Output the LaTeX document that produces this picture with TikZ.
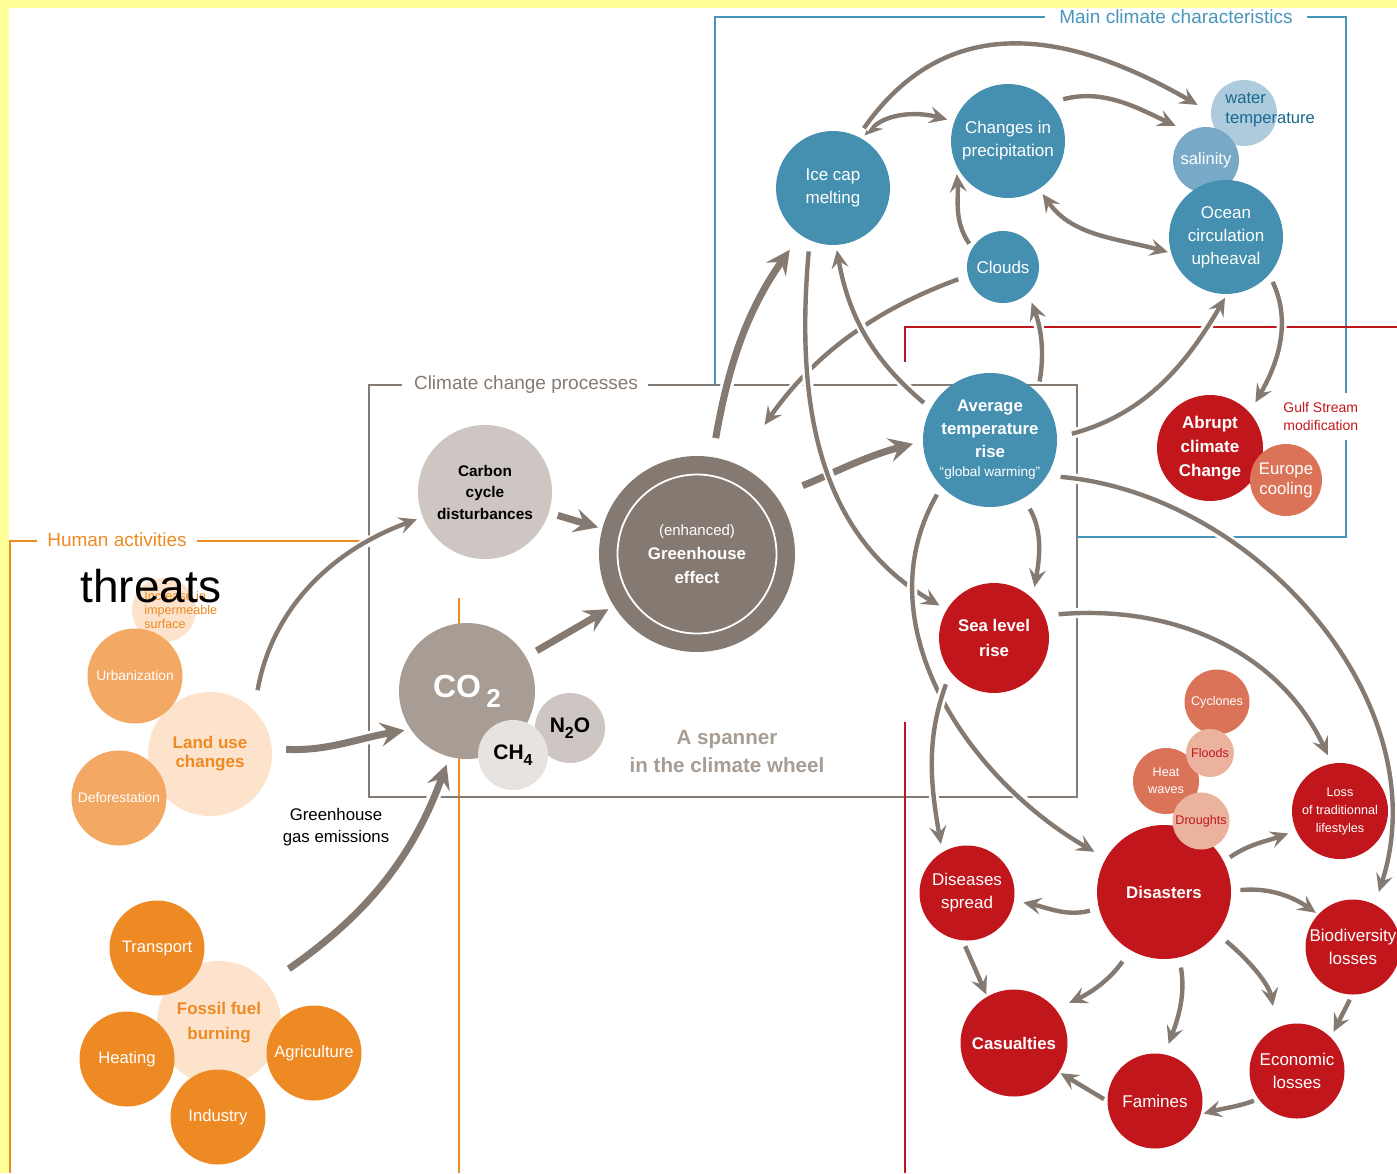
\documentclass[tikz,border=0pt]{standalone}
\usepackage{fontspec}
\setmainfont{Liberation Sans}
\usetikzlibrary{arrows.meta}

\definecolor{cyellow}{HTML}{FFFF99}
\definecolor{cblue}{HTML}{4590B0}
\definecolor{cblueL}{HTML}{78AAC7}
\definecolor{cblueLL}{HTML}{AECBDD}
\definecolor{cbluetext}{HTML}{17698E}
\definecolor{cframe}{HTML}{4894BA}
\definecolor{cgrey}{HTML}{857A71}
\definecolor{cgreyL}{HTML}{A79D95}
\definecolor{cgreyLL}{HTML}{CDC6C2}
\definecolor{cgreyLLL}{HTML}{E6E3E1}
\definecolor{cred}{HTML}{C1161C}
\definecolor{credL}{HTML}{DB7358}
\definecolor{credLL}{HTML}{EBB29E}
\definecolor{corange}{HTML}{EE8A23}
\definecolor{corangeL}{HTML}{F3A863}
\definecolor{corangeLL}{HTML}{FDE3CB}

\pgfdeclarelayer{frames}
\pgfdeclarelayer{links}
\pgfsetlayers{frames,links,main}

\tikzset{
    bubble/.style={
        circle,
        inner sep=0pt,
        align=center,
        text=white,
        font=\fontsize{8.5}{11.5}\selectfont
    },
    climate/.style={bubble, fill=cblue},
    impact/.style={bubble, fill=cred},
    impactmid/.style={bubble, fill=credL, font=\fontsize{6.3}{8.5}\selectfont},
    impactlight/.style={bubble, fill=credLL, text=cred, font=\fontsize{6.3}{8.5}\selectfont},
    activity/.style={bubble, fill=corange, font=\fontsize{8.3}{10}\selectfont},
    activitymid/.style={bubble, fill=corangeL, font=\fontsize{6.9}{9}\selectfont},
    activitylight/.style={bubble, fill=corangeLL, text=corange, font=\bfseries\fontsize{8.5}{9.5}\selectfont},
    gas/.style={bubble, text=black, font=\bfseries\fontsize{10.5}{12}\selectfont},
    link/.style={
        draw=cgrey,
        line width=2.2pt,
        arrows={-Stealth[length=9pt, width=8.5pt, inset=3.5pt]},
        preaction={draw=white, line width=5pt, arrows=-}
    },
    twoway/.style={
        arrows={Stealth[length=9pt, width=8.5pt, inset=3.5pt]-Stealth[length=9pt, width=8.5pt, inset=3.5pt]}
    },
    biglink/.style={
        draw=cgrey,
        line width=3.5pt,
        arrows={-Stealth[length=12pt, width=12pt, inset=4.5pt]},
        preaction={draw=white, line width=6.5pt, arrows=-}
    },
    frame/.style={line width=1pt},
    title/.style={inner sep=0pt, font=\fontsize{9.5}{11}\selectfont},
}

\begin{document}
\begin{tikzpicture}[x=0.5pt, y=0.5pt]
    \useasboundingbox (0,0) rectangle (1397,-1173);

    % human activities
    \node[activitylight, minimum size=32pt] (impsurf) at (164,-610) {};
    \node[activitylight, minimum size=62pt] (landuse) at (210,-754) {Land use\\changes};
    \node[activitylight, minimum size=62pt, font=\bfseries\fontsize{8.5}{12.5}\selectfont] (fossil) at (219,-1023) {Fossil fuel\\burning};
    \node[activitymid, minimum size=47.5pt] (urban) at (135,-676) {Urbanization};
    \node[activitymid, minimum size=47.5pt] (defor) at (119,-798) {Deforestation};
    \node[activity, minimum size=47.5pt] (transport) at (157,-948) {Transport};
    \node[activity, minimum size=47.5pt] (heating) at (127,-1059) {Heating};
    \node[activity, minimum size=47.5pt] (agri) at (314,-1053) {Agriculture};
    \node[activity, minimum size=47.5pt] (industry) at (218,-1117) {Industry};
    \node[anchor=west, align=left, inner sep=0pt, text=corange, font=\fontsize{6.3}{6.9}\selectfont] (imptext) at (144,-610) {Increase in\\impermeable\\surface};
    \node[align=center, font=\fontsize{8.4}{11}\selectfont] (ghg) at (336,-827) {Greenhouse\\gas emissions};
    \node[anchor=base west, inner sep=0pt, font=\fontsize{23}{23}\selectfont] (threats) at (80,-602) {threats};

    % processes
    \node[bubble, fill=cgreyLL, text=black, minimum size=67pt, font=\bfseries\fontsize{7.7}{10.75}\selectfont] (carbon) at (485,-492) {Carbon\\cycle\\disturbances};
    \node[bubble, fill=cgreyL, minimum size=68pt, font=\bfseries\fontsize{16}{18}\selectfont] (co2) at (467,-691) {CO\,\raisebox{-5pt}{\fontsize{13}{13}\selectfont 2}};
    \node[gas, fill=cgreyLL, minimum size=35pt] (n2o) at (570,-728) {N\raisebox{-3pt}{\fontsize{8}{8}\selectfont 2}O};
    \node[gas, fill=cgreyLLL, minimum size=35pt] (ch4) at (513,-755) {CH\raisebox{-3pt}{\fontsize{8}{8}\selectfont 4}};
    \node[bubble, fill=cgrey, minimum size=98pt, font=\bfseries\fontsize{8.4}{12}\selectfont] (ghe) at (697,-554) {{\mdseries\fontsize{7.5}{12}\selectfont (enhanced)}\\Greenhouse\\effect};
    \draw[white, line width=0.9pt] (ghe.center) circle (39.75pt);
    \node[align=center, text=cgreyL, font=\bfseries\fontsize{10.3}{14}\selectfont] (spanner) at (727,-752) {A spanner\\in the climate wheel};

    % climate characteristics
    \node[climate, minimum size=57pt] (icecap) at (833,-188) {Ice cap\\melting};
    \node[climate, minimum size=57pt] (precip) at (1008,-141) {Changes in\\precipitation};
    \node[bubble, fill=cblueLL, minimum size=33pt] (water) at (1244,-113) {};
    \node[bubble, fill=cblueL, minimum size=33pt, font=\fontsize{8.3}{10}\selectfont] (salinity) at (1206,-160) {salinity};
    \node[climate, minimum size=57pt] (ocean) at (1226,-237) {Ocean\\circulation\\upheaval};
    \node[anchor=west, align=left, inner sep=0pt, text=cbluetext, font=\fontsize{8.3}{10}\selectfont] (watertext) at (1225,-110) {water\\temperature};
    \node[climate, minimum size=36pt] (clouds) at (1003,-267) {Clouds};
    \node[climate, minimum size=67pt, font=\bfseries\fontsize{8.4}{11.5}\selectfont] (avgtemp) at (990,-440) {Average\\temperature\\rise\\[-2pt]{\mdseries\fontsize{6.8}{9}\selectfont “global warming”}};
    \node[impact, minimum size=53pt, font=\bfseries\fontsize{8.5}{12}\selectfont] (abrupt) at (1210,-448) {Abrupt\\climate\\Change};
    \node[bubble, fill=credL, minimum size=36pt, font=\fontsize{8.4}{10}\selectfont] (europe) at (1286,-480) {Europe\\cooling};
    \node[anchor=west, align=left, inner sep=0pt, text=cred, font=\fontsize{7}{9}\selectfont] (gulf) at (1283,-416) {Gulf Stream\\modification};

    % consequences
    \node[impact, minimum size=55pt, font=\bfseries\fontsize{8.4}{12.5}\selectfont] (sealevel) at (994,-638) {Sea level\\rise};
    \node[impactmid, minimum size=32.5pt] (cyclones) at (1217,-702) {Cyclones};
    \node[impactmid, minimum size=33pt] (heatwaves) at (1166,-781) {Heat\\waves};
    \node[impactlight, minimum size=24pt] (floods) at (1210,-753) {Floods};
    \node[impact, minimum size=67pt, font=\bfseries\fontsize{8.4}{11}\selectfont] (disasters) at (1164,-892) {Disasters};
    \node[impactlight, minimum size=28.5pt] (droughts) at (1201,-821) {Droughts};
    \node[impact, minimum size=48pt, font=\fontsize{6.3}{9}\selectfont] (loss) at (1340,-811) {Loss\\of traditionnal\\lifestyles};
    \node[impact, minimum size=47.5pt] (diseases) at (967,-893) {Diseases\\spread};
    \node[impact, minimum size=47.5pt] (biodiv) at (1353,-947) {Biodiversity\\losses};
    \node[impact, minimum size=53.5pt, font=\bfseries\fontsize{8.4}{11}\selectfont] (casualties) at (1014,-1043) {Casualties};
    \node[impact, minimum size=47.5pt] (famines) at (1155,-1101) {Famines};
    \node[impact, minimum size=47.5pt] (economic) at (1297,-1071) {Economic\\losses};

    % frame titles
    \node[title, text=corange] (humtitle) at (117,-540) {Human activities};
    \node[title, text=cgrey] (proctitle) at (526,-385) {Climate change processes};
    \node[title, text=cframe] (maintitle) at (1176,-17) {Main climate characteristics};

    % lines
    \begin{pgfonlayer}{links}
    \draw[biglink, shorten <=7pt, shorten >=3pt] (landuse.5) to[out=-3, in=190] (co2.214);
    \draw[link, shorten <=10pt, shorten >=3pt] (landuse.45) to[out=80, in=200] (carbon.202);
    \draw[biglink, shorten <=13pt, shorten >=4pt] (fossil.39) to[out=35, in=250] (co2.255);
    \draw[biglink, shorten <=4.5pt, shorten >=2pt] (carbon.342) -- (ghe.165);
    \draw[biglink, shorten <=6pt, shorten >=3pt] (co2.30) -- (ghe.212);
    \draw[biglink, shorten <=9.5pt, shorten >=9pt] (ghe.81) to[out=80, in=235] (icecap.235);
    \draw[biglink, shorten <=14pt, shorten >=5pt] (ghe.36) to[out=22, in=195] (avgtemp.181);
    \draw[link, shorten <=5pt, shorten >=24pt] (clouds.194) to[out=200, in=55] (ghe.66);

    \draw[link, twoway, shorten <=2pt, shorten >=3.5pt] (icecap.60) to[out=45, in=165] (precip.160);
    \draw[link, shorten <=5pt, shorten >=7.5pt, looseness=1.15] (icecap.64) to[out=55, in=150] (water.179);
    \draw[link, shorten <=6.5pt, shorten >=7pt] (precip.42) to[out=15, in=155] (salinity.122);
    \draw[link, twoway, shorten <=3pt, shorten >=1.5pt] (precip.303) to[out=-55, in=165] (ocean.196);
    \draw[link, shorten <=2.5pt, shorten >=4.5pt] (clouds.148) to[out=125, in=275] (precip.205);
    \draw[link, shorten <=5.5pt, shorten >=5pt] (avgtemp.45) to[out=80, in=290] (clouds.314);
    \draw[link, shorten <=7.5pt, shorten >=2pt] (avgtemp.2) to[out=15, in=240] (ocean.271);
    \draw[link, shorten <=4pt, shorten >=5.7pt] (ocean.319) to[out=-65, in=60] (abrupt.42);
    \draw[link, shorten <=4.3pt, shorten >=2.5pt] (avgtemp.152) to[out=140, in=280] (icecap.273);
    \draw[link, shorten <=5.5pt, shorten >=4pt] (icecap.246) to[out=265, in=150] (sealevel.149);
    \draw[link, shorten <=6pt, shorten >=5.7pt] (avgtemp.300) to[out=-60, in=80] (sealevel.46);
    \draw[link, shorten <=4.5pt, shorten >=6.5pt] (avgtemp.224) to[out=240, in=150] (disasters.150);
    \draw[link, shorten <=6.5pt, shorten >=4pt] (sealevel.218) to[out=250, in=100] (diseases.121);
    \draw[link, shorten <=7pt, shorten >=4.5pt] (sealevel.24) to[out=5, in=115] (loss.100);
    \draw[link, shorten <=6.7pt, shorten >=6.6pt] (avgtemp.328) to[out=-5, in=72] (biodiv.63);

    \draw[link, shorten <=3.6pt, shorten >=4pt] (disasters.27) to[out=35, in=200] (loss.204);
    \draw[link, shorten <=4.5pt, shorten >=1.3pt] (disasters.1) to[out=5, in=145] (biodiv.137);
    \draw[link, shorten <=4.5pt, shorten >=4.6pt] (disasters.194) to[out=195, in=-12] (diseases.351);
    \draw[link, shorten <=6.8pt, shorten >=7.3pt] (disasters.240) to[out=235, in=25] (casualties.39);
    \draw[link, shorten <=5pt, shorten >=5.4pt] (disasters.283) to[out=-80, in=70] (famines.78);
    \draw[link, shorten <=6pt, shorten >=11pt] (disasters.322) to[out=-40, in=100] (economic.115);
    \draw[link, shorten <=3pt, shorten >=1pt] (diseases.265) -- (casualties.120);
    \draw[link, shorten <=2.7pt, shorten >=3pt] (biodiv.269) -- (economic.45);
    \draw[link, shorten <=2.3pt, shorten >=1.3pt] (economic.216) to[out=200, in=15] (famines.344);
    \draw[link, shorten <=1.8pt, shorten >=0.8pt] (famines.180) -- (casualties.327);
    \end{pgfonlayer}

    % frames
    \begin{pgfonlayer}{frames}
    \fill[cyellow] (0,0) rectangle (1397,-8);
    \fill[cyellow] (0,0) rectangle (9,-1173);
    \draw[frame, corange] (37,-541) -- (10,-541) -- (10,-1173);
    \draw[frame, corange] (197,-541) -- (367,-541);
    \draw[frame, corange] (459,-598) -- (459,-1173);
    \draw[frame, cgrey] (402,-385) -- (369,-385) -- (369,-797) -- (1077,-797) -- (1077,-385) -- (648,-385);
    \draw[frame, cframe] (715,-385) -- (715,-17) -- (1045,-17);
    \draw[frame, cframe] (1307,-17) -- (1346,-17) -- (1346,-393);
    \draw[frame, cframe] (1346,-440) -- (1346,-537) -- (1077,-537);
    \draw[frame, cred] (905,-362) -- (905,-327) -- (1397,-327);
    \draw[frame, cred] (905,-722) -- (905,-1173);
    \end{pgfonlayer}
\end{tikzpicture}
\end{document}
